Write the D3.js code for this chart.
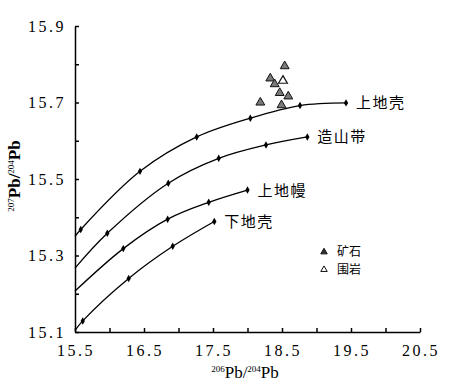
<!DOCTYPE html>
<html>
<head>
<meta charset="utf-8">
<script src="https://cdn.jsdelivr.net/npm/d3@7"></script>
<style>
  body { margin: 0; background: #fff; }
  .tick-label { font-family: "Liberation Serif", serif; font-size: 16px; letter-spacing: 2.5px; }
  .cn { font-family: "Noto Sans CJK SC", sans-serif; }
</style>
</head>
<body>
<svg id="chart"></svg>
<script>
// growth curves, first point is where each line leaves the y axis (no marker)
const upperCrust = [[15.5, 15.350], [15.583, 15.368], [16.442, 15.520], [17.264, 15.610], [18.041, 15.659], [18.761, 15.692], [19.428, 15.699]];
const orogene = [[15.5, 15.267], [15.968, 15.358], [16.852, 15.489], [17.583, 15.554], [18.268, 15.589], [18.867, 15.610]];
const mantle = [[15.5, 15.207], [16.200, 15.318], [16.843, 15.395], [17.438, 15.439], [18.000, 15.471]];
const lowerCrust = [[15.5, 15.104], [15.612, 15.129], [16.278, 15.240], [16.916, 15.324], [17.519, 15.389]];
const curveNames = ["上地壳", "造山带", "上地幔", "下地壳"];

// samples
const oreX = [18.539, 18.330, 18.394, 18.467, 18.591, 18.186, 18.493];
const oreY = [15.795, 15.763, 15.748, 15.725, 15.716, 15.700, 15.693];
const wallX = [18.514];
const wallY = [15.757];
const legendNames = ["矿石", "围岩"];

const xTicks = [15.5, 16.5, 17.5, 18.5, 19.5, 20.5];
const xMinorTicks = [15.5, 16, 16.5, 17, 17.5, 18, 18.5, 19, 19.5, 20, 20.5];
const yTicks = [15.1, 15.3, 15.5, 15.7, 15.9];
const yMinorTicks = [15.1, 15.2, 15.3, 15.4, 15.5, 15.6, 15.7, 15.8, 15.9];

var width = 463, height = 392;
var svg = d3.select("#chart").attr("width", width).attr("height", height);

var x = d3.scaleLinear().domain([15.5, 20.5]).range([75, 420]);
var y = d3.scaleLinear().domain([15.1, 15.9]).range([332, 26]);

// axes, ticks pointing inward
var xAxis = svg.append("g")
  .attr("transform", "translate(0," + y(15.1) + ")")
  .call(d3.axisBottom(x).tickValues(xMinorTicks).tickSizeInner(-4).tickSizeOuter(0).tickFormat(""));
xAxis.selectAll(".tick text").remove();
var yAxis = svg.append("g")
  .attr("transform", "translate(" + x(15.5) + ",0)")
  .call(d3.axisLeft(y).tickValues(yMinorTicks).tickSizeInner(-4).tickSizeOuter(0).tickFormat(""));
yAxis.selectAll(".tick text").remove();
svg.selectAll(".domain, .tick line").attr("stroke", "#000").attr("stroke-width", 1.5);

svg.append("g").selectAll("text").data(xTicks).enter().append("text")
  .attr("class", "tick-label")
  .attr("x", d => x(d) + 1)
  .attr("y", 356)
  .attr("text-anchor", "middle")
  .text(d => d.toFixed(1));

svg.append("g").selectAll("text").data(yTicks).enter().append("text")
  .attr("class", "tick-label")
  .attr("x", 66)
  .attr("y", d => y(d) + 5.5)
  .attr("text-anchor", "end")
  .text(d => d.toFixed(1));

// axis titles
var xt = svg.append("text")
  .attr("x", 245).attr("y", 378)
  .attr("text-anchor", "middle")
  .style("font-family", "Liberation Serif, serif").style("font-size", "17px");
xt.append("tspan").attr("dy", -6).style("font-size", "9px").text("206");
xt.append("tspan").attr("dy", 6).text("Pb/");
xt.append("tspan").attr("dy", -6).style("font-size", "9px").text("204");
xt.append("tspan").attr("dy", 6).text("Pb");

var yt = svg.append("text")
  .attr("transform", "translate(20,176) rotate(-90)")
  .attr("text-anchor", "middle")
  .style("font-family", "Liberation Serif, serif").style("font-size", "17px").style("font-weight", "bold");
yt.append("tspan").attr("dy", -6).style("font-size", "9px").style("font-weight", "normal").text("207");
yt.append("tspan").attr("dy", 6).text("Pb/");
yt.append("tspan").attr("dy", -6).style("font-size", "9px").style("font-weight", "normal").text("204");
yt.append("tspan").attr("dy", 6).text("Pb");

// curves
var line = d3.line().x(d => x(d[0])).y(d => y(d[1])).curve(d3.curveCatmullRom);
var curves = [upperCrust, orogene, mantle, lowerCrust];

curves.forEach(function(c, i) {
  svg.append("path")
    .datum(c)
    .attr("d", line)
    .attr("fill", "none")
    .attr("stroke", "#000")
    .attr("stroke-width", 1.3);

  svg.append("g").selectAll("path")
    .data(c.slice(1))
    .enter().append("path")
    .attr("transform", d => "translate(" + x(d[0]) + "," + y(d[1]) + ")")
    .attr("d", d3.symbol().type(d3.symbolDiamond).size(16))
    .attr("fill", "#000");

  var last = c[c.length - 1];
  svg.append("text")
    .attr("class", "cn")
    .attr("x", x(last[0]) + 10)
    .attr("y", y(last[1]) + 5.5)
    .style("font-size", "15px")
    .style("letter-spacing", "1.5px")
    .text(curveNames[i]);
});

// samples
var tri = d3.symbol().type(d3.symbolTriangle).size(34);
svg.append("g").selectAll("path")
  .data(d3.range(oreX.length))
  .enter().append("path")
  .attr("transform", i => "translate(" + x(oreX[i]) + "," + y(oreY[i]) + ")")
  .attr("d", tri)
  .attr("fill", "#7a7a7a")
  .attr("stroke", "#111")
  .attr("stroke-width", 1);

svg.append("g").selectAll("path")
  .data(d3.range(wallX.length))
  .enter().append("path")
  .attr("transform", i => "translate(" + x(wallX[i]) + "," + y(wallY[i]) + ")")
  .attr("d", tri)
  .attr("fill", "#fff")
  .attr("stroke", "#111")
  .attr("stroke-width", 1.2);

// legend
var legend = svg.append("g").attr("transform", "translate(324,252)");
legendNames.forEach(function(name, i) {
  legend.append("path")
    .attr("transform", "translate(0," + (i * 17.6) + ")")
    .attr("d", d3.symbol().type(d3.symbolTriangle).size(18))
    .attr("fill", i == 0 ? "#333" : "#fff")
    .attr("stroke", "#111")
    .attr("stroke-width", 1);
  legend.append("text")
    .attr("class", "cn")
    .attr("x", 13)
    .attr("y", i * 17.6 + 4.2)
    .style("font-size", "12px")
    .text(name);
});
</script>
</body>
</html>
